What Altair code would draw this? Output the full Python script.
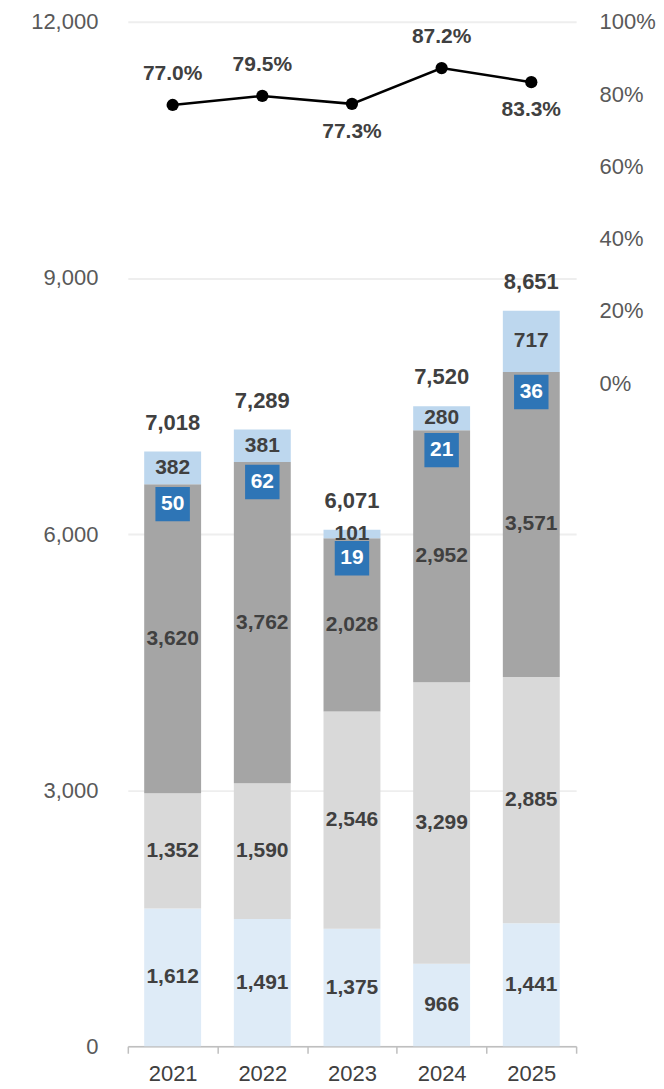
import altair as alt
import pandas as pd

years = ["2021", "2022", "2023", "2024", "2025"]
seg_bottom = [1612, 1491, 1375, 966, 1441]     # light blue (bottom)
seg_light = [1352, 1590, 2546, 3299, 2885]     # light gray
seg_dark = [3620, 3762, 2028, 2952, 3571]      # dark gray
seg_top = [382, 381, 101, 280, 717]            # light blue (top)
boxed = [50, 62, 19, 21, 36]                   # boxed blue values
totals = [7018, 7289, 6071, 7520, 8651]
share = [77.0, 79.5, 77.3, 87.2, 83.3]         # percent, right axis
y_ticks = [0, 3000, 6000, 9000, 12000]
pct_ticks = [0, 20, 40, 60, 80, 100]

series = ["s1", "s2", "s3", "s4"]
colors = ["#deebf7", "#d9d9d9", "#a5a5a5", "#bdd7ee"]

rows = []
for i, y in enumerate(years):
    for k, (name, vals) in enumerate(zip(series, [seg_bottom, seg_light, seg_dark, seg_top])):
        rows.append({"year": y, "series": name, "order": k, "value": vals[i]})
seg_df = pd.DataFrame(rows)

sum_df = pd.DataFrame({
    "year": years,
    "total": totals,
    "boxed": boxed,
    "gray_top": [a + b + c for a, b, c in zip(seg_bottom, seg_light, seg_dark)],
    "bar_top": [a + b + c + d for a, b, c, d in zip(seg_bottom, seg_light, seg_dark, seg_top)],
    "share": share,
    "label": [f"{v:.1f}%" for v in share],
    "above": [i == 0 or share[i] >= share[i - 1] for i in range(len(share))],
})

BOLD = "Liberation Sans, Arial, sans-serif"
REG = "Liberation Sans, Arial, sans-serif"
TXT = "#404040"

x_axis = alt.Axis(title=None, labelAngle=0, labelFont=REG, labelFontSize=22,
                  labelColor=TXT, domainColor="#bfbfbf", domainWidth=1.5,
                  tickColor="#bfbfbf", tickWidth=1.5, tickSize=7,
                  tickBand="extent", labelPadding=10, grid=False)
x_enc = alt.X("year:N", sort=years, scale=alt.Scale(paddingInner=0, paddingOuter=0), axis=x_axis)

yscale = alt.Scale(domain=[0, 12000], nice=False)
y_axis = alt.Axis(values=y_ticks, labelExpr="format(datum.value, ',')", title=None,
                  domain=False, ticks=False,
                  grid=True, gridColor="#eeeeee", gridWidth=2, labelFont=REG,
                  labelFontSize=22, labelColor="#595959", labelPadding=30)

def ylft(field):
    return alt.Y(field, scale=yscale, axis=y_axis, title=None)

base = alt.Chart(seg_df).transform_stack(
    stack="value", groupby=["year"], sort=[alt.SortField("order", order="ascending")],
    as_=["y0", "y1"]
)

bars = base.mark_bar(size=57).encode(
    x=x_enc,
    y=ylft("y0:Q"),
    y2="y1:Q",
    color=alt.Color("series:N", scale=alt.Scale(domain=series, range=colors), legend=None),
)

seg_labels = base.transform_calculate(mid="(datum.y0 + datum.y1) / 2").mark_text(
    font=BOLD, fontSize=21, fontWeight="bold", color=TXT, baseline="middle"
).encode(
    x=x_enc,
    y=ylft("mid:Q"),
    text=alt.Text("value:Q", format=","),
)

tot = alt.Chart(sum_df)
total_labels = tot.mark_text(font=BOLD, fontSize=22, fontWeight="bold", color=TXT,
                             baseline="middle", dy=-29).encode(
    x=x_enc, y=ylft("bar_top:Q"),
    text=alt.Text("total:Q", format=","))

boxes = tot.mark_square(size=1190, filled=True, opacity=1, color="#2e75b6", yOffset=20).encode(
    x=x_enc, y=ylft("gray_top:Q"))
box_labels = tot.mark_text(font=BOLD, fontSize=21, fontWeight="bold", color="white",
                           baseline="middle", dy=20).encode(
    x=x_enc, y=ylft("gray_top:Q"),
    text=alt.Text("boxed:Q"))

left = alt.layer(bars, seg_labels, total_labels, boxes, box_labels)

pscale = alt.Scale(domain=[-183.4, 100], nice=False)
p_axis = alt.Axis(orient="right", values=pct_ticks, labelExpr="datum.value + '%'",
                  title=None, domain=False, ticks=False, grid=False, labelFont=REG,
                  labelFontSize=22, labelColor="#595959", labelPadding=23)

def yrt(field):
    return alt.Y(field, scale=pscale, axis=p_axis, title=None)

line = tot.mark_line(color="black", strokeWidth=2.5).encode(x=x_enc, y=yrt("share:Q"))
pts = tot.mark_circle(size=150, color="black", opacity=1).encode(x=x_enc, y=yrt("share:Q"))
lab_up = tot.transform_filter("datum.above").mark_text(
    font=BOLD, fontSize=21, fontWeight="bold", color=TXT, baseline="middle", dy=-31).encode(
    x=x_enc, y=yrt("share:Q"), text="label:N")
lab_dn = tot.transform_filter("!datum.above").mark_text(
    font=BOLD, fontSize=21, fontWeight="bold", color=TXT, baseline="middle", dy=28).encode(
    x=x_enc, y=yrt("share:Q"), text="label:N")

right = alt.layer(line, pts, lab_up, lab_dn)

chart = alt.layer(left, right).resolve_scale(y="independent").properties(
    width=449, height=1026,
    autosize=alt.AutoSizeParams(type="none"),
    padding={"left": 120, "top": 13, "right": 80, "bottom": 40},
).configure_view(stroke=None)

chart.save("out.html", embed_options={"renderer": "svg", "actions": False})
